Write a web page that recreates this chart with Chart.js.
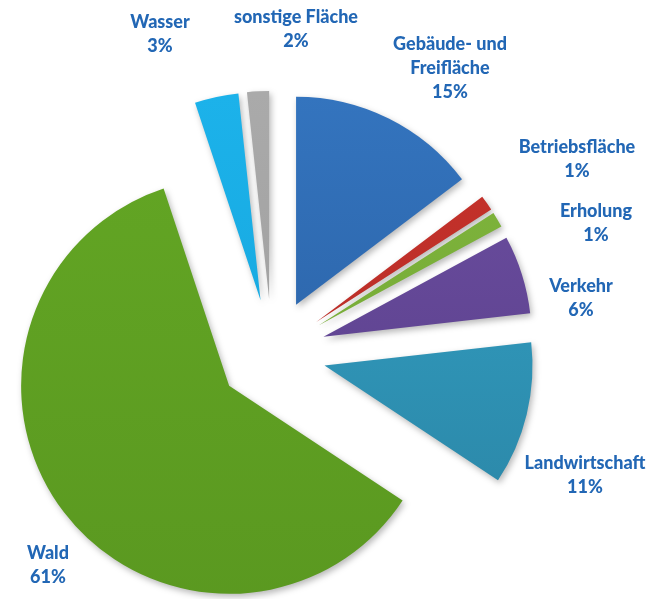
<!DOCTYPE html>
<html>
<head>
<meta charset="utf-8">
<script src="https://cdn.jsdelivr.net/npm/chart.js@4.4.0/dist/chart.umd.min.js"></script>
<style>
  html, body { margin: 0; padding: 0; background: #fff; }
  #wrap { width: 648px; height: 599px; position: relative; }
</style>
</head>
<body>
<div id="wrap"><canvas id="chart"></canvas></div>
<script>
// Flächennutzung, Anteile in Prozent
const categories = ['Gebäude- und Freifläche', 'Betriebsfläche', 'Erholung', 'Verkehr',
  'Landwirtschaft', 'Wald', 'Wasser', 'sonstige Fläche'];
const shares = [14.7, 1.2, 1.2, 6.1, 11.1, 60.6, 3.4, 1.7];
// label text lines as printed next to each slice
const labelLines = [['Gebäude- und', 'Freifläche'], ['Betriebsfläche'], ['Erholung'], ['Verkehr'],
  ['Landwirtschaft'], ['Wald'], ['Wasser'], ['sonstige Fläche']];

// slice colours: light (top) and dark (bottom) end of the gradient
const colorsTop = ['#3577c2', '#c9332c', '#82b83e', '#6e50a3', '#33a3c7', '#63a624', '#1db4ec', '#acacac'];
const colorsBottom = ['#285c9e', '#b02a25', '#6fa333', '#563c86', '#2a82a2', '#5a9820', '#14a3da', '#9a9a9a'];

// where the label blocks sit (centre x, first line y)
const labelAnchors = [[450, 44], [577, 147], [596, 211], [581, 286], [585, 463], [48, 553], [160, 22], [296, 17]];

const textColor = '#2267b5';
const explode = 54; // px every slice is pulled out along its middle angle

function sliceColor(ctx) {
  const i = ctx.dataIndex;
  const g = ctx.chart.ctx.createLinearGradient(0, 90, 0, 595);
  g.addColorStop(0, colorsTop[i]);
  g.addColorStop(1, colorsBottom[i]);
  return g;
}

// draws the library's arc elements, each shifted outwards, with a soft shadow
const explodePlugin = {
  id: 'explode',
  beforeDatasetsDraw(chart) {
    const c = chart.ctx;
    const meta = chart.getDatasetMeta(0);
    c.save();
    c.shadowColor = 'rgba(0,0,0,0.28)';
    c.shadowBlur = 6;
    c.shadowOffsetX = 2;
    c.shadowOffsetY = 3;
    meta.data.forEach(arc => {
      const mid = (arc.startAngle + arc.endAngle) / 2;
      c.save();
      c.translate(Math.cos(mid) * explode, Math.sin(mid) * explode);
      arc.draw(c);
      c.restore();
    });
    c.restore();
    return false;
  }
};

const labelPlugin = {
  id: 'sliceLabels',
  afterDraw(chart) {
    const c = chart.ctx;
    const values = chart.data.datasets[0].data;
    const total = values.reduce((a, b) => a + b, 0);
    c.save();
    c.fillStyle = textColor;
    c.font = '900 18px Lato, "Open Sans", sans-serif';
    c.textAlign = 'center';
    c.textBaseline = 'middle';
    values.forEach((v, i) => {
      const [x, y] = labelAnchors[i];
      const lines = labelLines[i].concat([Math.round(v / total * 100) + '%']);
      lines.forEach((t, k) => c.fillText(t, x, y + k * 24));
    });
    c.restore();
  }
};

new Chart(document.getElementById('chart'), {
  type: 'pie',
  data: {
    labels: categories,
    datasets: [{
      data: shares,
      backgroundColor: sliceColor,
      borderWidth: 0,
      hoverOffset: 0
    }]
  },
  options: {
    responsive: true,
    maintainAspectRatio: false,
    animation: false,
    radius: 208,
    layout: { padding: { left: 0, right: 104, top: 107, bottom: 0 } },
    plugins: {
      legend: { display: false },
      tooltip: { enabled: false }
    }
  },
  plugins: [explodePlugin, labelPlugin]
});
</script>
</body>
</html>
